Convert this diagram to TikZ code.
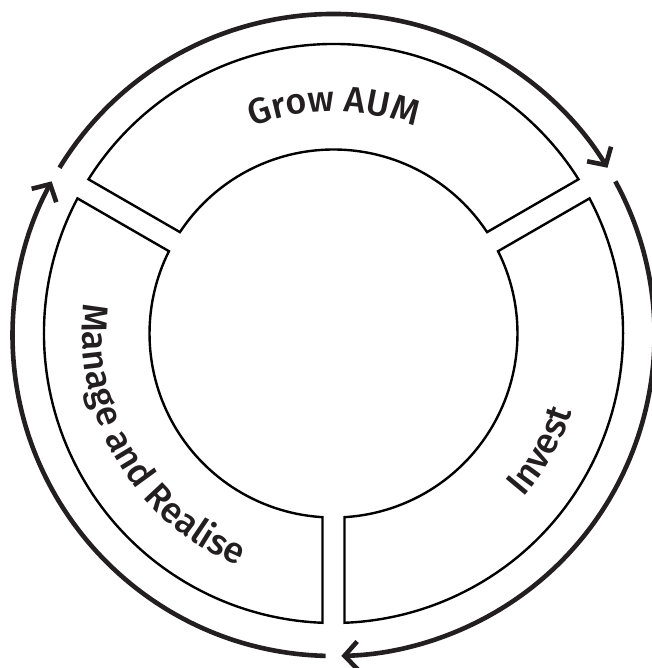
\documentclass[tikz,border=0pt]{standalone}
\usepackage{fontspec}
\setmainfont{Fira Sans}
\newfontfamily\labelfamily{Fira Sans Medium}
\usetikzlibrary{arrows.meta,decorations.text}
\definecolor{ink}{HTML}{231F20}
\newcommand{\labelfont}{\labelfamily\fontsize{36}{36}\selectfont}
\begin{document}
\begin{tikzpicture}[x=1pt,y=1pt,
  sector/.style={draw=black, line width=2.4pt, line join=miter},
  cyclearc/.style={draw=ink, line width=4.6pt, -{Straight Barb[length=13pt,width=28pt]}},
  curvedlabel/.style={decorate, decoration={text along path, text align=center, text color=ink}}]
\useasboundingbox (-333.5,-334.5) rectangle (317.5,333.5);
% sectors
\draw[sector] (147.82:289.5) arc[start angle=147.82, end angle=32.18, radius=289.5]
  -- (33.43:184) arc[start angle=33.43, end angle=146.57, radius=184] -- cycle;
\draw[sector] (27.82:289.5) arc[start angle=27.82, end angle=-87.82, radius=289.5]
  -- (-86.57:184) arc[start angle=-86.57, end angle=26.57, radius=184] -- cycle;
\draw[sector] (152.18:289.5) arc[start angle=152.18, end angle=267.82, radius=289.5]
  -- (266.57:184) arc[start angle=266.57, end angle=153.43, radius=184] -- cycle;
% cycle arrows
\begin{scope}[shift={(0,-1.5)}]
\draw[cyclearc] (148.6:321) arc[start angle=148.6, end angle=31.4, radius=321];
\draw[cyclearc] (28.6:321) arc[start angle=28.6, end angle=-88.6, radius=321];
\draw[cyclearc] (-91.4:321) arc[start angle=-91.4, end angle=-208.6, radius=321];
\end{scope}
% labels
\path[curvedlabel, decoration={text={|\labelfont|Grow AUM}}]
  (150:222) arc[start angle=150, end angle=30, radius=222];
\path[curvedlabel, decoration={text={|\labelfont|Invest}}]
  (-89.5:251) arc[start angle=-89.5, end angle=30.5, radius=251];
\path[curvedlabel, decoration={text={|\labelfont|Manage and Realise}}]
  (150.5:251) arc[start angle=150.5, end angle=270.5, radius=251];
\end{tikzpicture}
\end{document}
